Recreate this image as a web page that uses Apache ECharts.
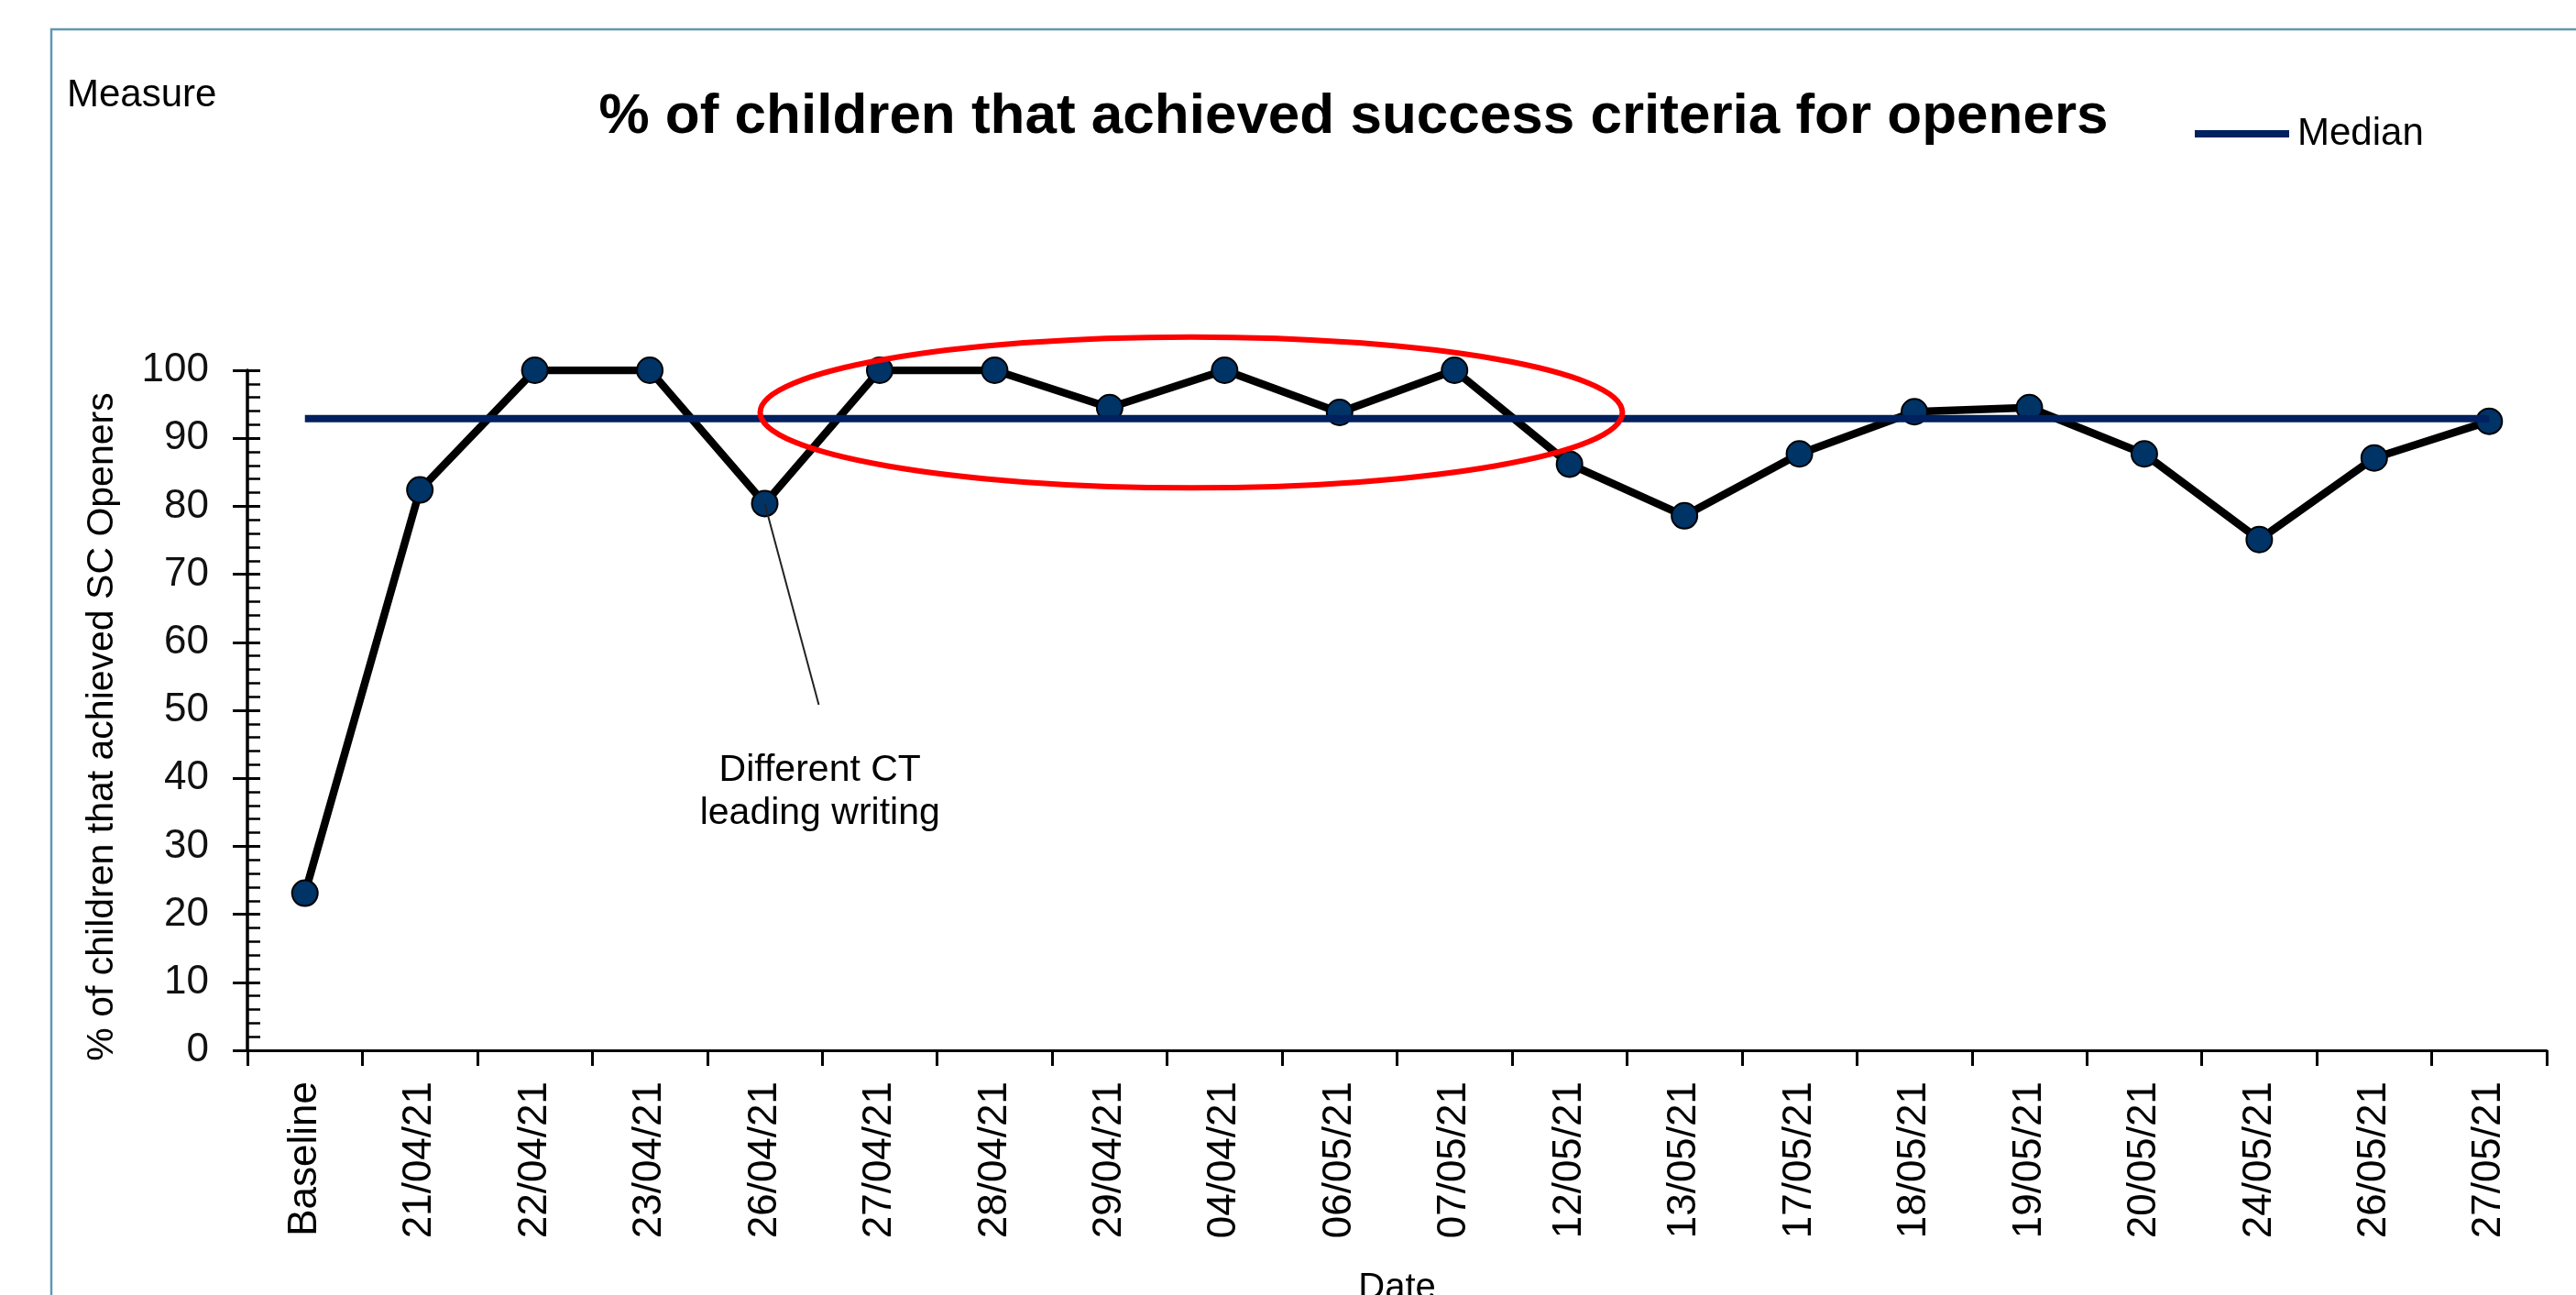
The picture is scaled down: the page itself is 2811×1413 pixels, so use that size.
<!DOCTYPE html>
<html>
<head>
<meta charset="utf-8">
<script src="https://cdn.jsdelivr.net/npm/echarts@6/dist/echarts.min.js"></script>
<style>
html,body{margin:0;padding:0;background:#fff;}
#c{width:2811px;height:1413px;}
</style>
</head>
<body>
<div id="c"></div>
<script>
// ---- data ----
const categories = ['Baseline','21/04/21','22/04/21','23/04/21','26/04/21','27/04/21','28/04/21','29/04/21','04/04/21','06/05/21','07/05/21','12/05/21','13/05/21','17/05/21','18/05/21','19/05/21','20/05/21','24/05/21','26/05/21','27/05/21'];
const values = [23.1, 82.4, 100, 100, 80.4, 100, 100, 94.5, 100, 93.8, 100, 86.2, 78.6, 87.7, 93.9, 94.5, 87.7, 75.1, 87.1, 92.5];
const medianValues = [92.9, 92.9, 92.9, 92.9, 92.9, 92.9, 92.9, 92.9, 92.9, 92.9, 92.9, 92.9, 92.9, 92.9, 92.9, 92.9, 92.9, 92.9, 92.9, 92.9];
const yMin = 0, yMax = 100, yInterval = 10;
const chartTitle = '% of children that achieved success criteria for openers';
const yAxisName = '% of children that achieved SC Openers';
const xAxisName = 'Date';
const measureLabel = 'Measure';
const annotationText = 'Different CT\nleading writing';
// annotation anchors (category position, value)
const annotationPointIndex = 4;
const annotationEnd = [4.47, 50.8];
const annotationTextPos = [4.48, 38.0];
const ellipseCenter = [7.71, 93.8];
const ellipseRadius = [3.75, 11.1];

const FONT = '"Liberation Sans", Arial, Helvetica, sans-serif';

const chart = echarts.init(document.getElementById('c'), null, {renderer: 'canvas'});

const option = {
  animation: false,
  backgroundColor: '#ffffff',
  title: {
    text: chartTitle,
    left: 1477,
    textAlign: 'center',
    top: 97,
    padding: 0,
    textStyle: {fontFamily: FONT, fontSize: 62, fontWeight: 'bold', color: '#000', lineHeight: 62}
  },
  legend: {
    data: [{name: 'Median', icon: 'rect'}],
    left: 2395,
    top: 124,
    padding: 0,
    itemWidth: 103,
    itemHeight: 8,
    selectedMode: false,
    textStyle: {fontFamily: FONT, fontSize: 42, color: '#000', lineHeight: 44, padding: [0, 0, 0, 4]}
  },
  grid: {left: 270, right: 32, top: 404, bottom: 267, containLabel: false, outerBoundsMode: 'none'},
  xAxis: {
    type: 'category',
    data: categories,
    boundaryGap: true,
    name: xAxisName,
    nameLocation: 'middle',
    nameGap: 240,
    nameTextStyle: {fontFamily: FONT, fontSize: 40, color: '#000'},
    axisLine: {show: true, lineStyle: {color: '#000', width: 3}},
    axisTick: {show: true, length: 17, lineStyle: {color: '#000', width: 3}},
    axisLabel: {rotate: 90, margin: 34, fontFamily: FONT, fontSize: 44, color: '#000', interval: 0},
    splitLine: {show: false}
  },
  yAxis: [
    {
      type: 'value',
      position: 'left',
      offset: 0,
      min: yMin, max: yMax, interval: yInterval,
      name: yAxisName,
      nameLocation: 'middle',
      nameGap: 138,
      nameTextStyle: {fontFamily: FONT, fontSize: 41, color: '#000', padding: [0, 36, 0, 0]},
      axisLine: {show: true, lineStyle: {color: '#000', width: 3.5}},
      axisTick: {show: true, inside: false, length: 16, lineStyle: {color: '#000', width: 3}},
      axisLabel: {margin: 42, fontFamily: FONT, fontSize: 44, color: '#111'},
      splitLine: {show: false}
    },
    {
      type: 'value',
      position: 'left',
      offset: 0,
      min: yMin, max: yMax, interval: yInterval,
      axisLine: {show: false},
      axisLabel: {show: false},
      axisTick: {show: true, inside: true, length: 14, lineStyle: {color: '#000', width: 3}},
      minorTick: {show: true, splitNumber: 5, length: 14, lineStyle: {color: '#000', width: 2.5}},
      splitLine: {show: false},
      minorSplitLine: {show: false}
    }
  ],
  series: [
    {
      name: 'Measure',
      type: 'line',
      data: values,
      symbol: 'circle',
      symbolSize: 28,
      lineStyle: {color: '#000', width: 8.5},
      itemStyle: {color: '#003366', borderColor: '#000', borderWidth: 2},
      z: 2
    },
    {
      name: 'Median',
      type: 'line',
      data: medianValues,
      symbol: 'none',
      showSymbol: false,
      lineStyle: {color: '#002060', width: 8},
      itemStyle: {color: '#002060'},
      z: 3
    }
  ]
};

chart.setOption(option);

// annotation geometry derived from the axes
const p0 = chart.convertToPixel({xAxisIndex: 0, yAxisIndex: 0}, [0, 0]);
const p1 = chart.convertToPixel({xAxisIndex: 0, yAxisIndex: 0}, [1, 100]);
const band = p1[0] - p0[0];
const perUnit = (p0[1] - p1[1]) / 100;
const X = c => p0[0] + c * band;
const Y = v => p0[1] - v * perUnit;

chart.setOption({
  graphic: [
    {
      type: 'rect', silent: true, z: -1,
      shape: {x: 56, y: 32, width: 3200, height: 3200},
      style: {fill: 'none', stroke: '#5f98b3', lineWidth: 2.5}
    },
    {
      type: 'text', silent: true,
      style: {text: measureLabel, x: 73, y: 104, align: 'left', verticalAlign: 'middle',
              font: '42px ' + FONT, fill: '#000'}
    },
    {
      type: 'line', silent: true, z: 10,
      shape: {x1: X(annotationPointIndex), y1: Y(values[annotationPointIndex]),
              x2: X(annotationEnd[0]), y2: Y(annotationEnd[1])},
      style: {stroke: '#222', lineWidth: 2}
    },
    {
      type: 'text', silent: true, z: 10,
      style: {text: annotationText, x: X(annotationTextPos[0]), y: Y(annotationTextPos[1]),
              align: 'center', verticalAlign: 'middle', lineHeight: 47,
              font: '41px ' + FONT, fill: '#000'}
    },
    {
      type: 'ellipse', silent: true, z: 20,
      shape: {cx: X(ellipseCenter[0]), cy: Y(ellipseCenter[1]),
              rx: ellipseRadius[0] * band, ry: ellipseRadius[1] * perUnit},
      style: {fill: 'none', stroke: '#ff0000', lineWidth: 6}
    }
  ]
});
</script>
</body>
</html>
